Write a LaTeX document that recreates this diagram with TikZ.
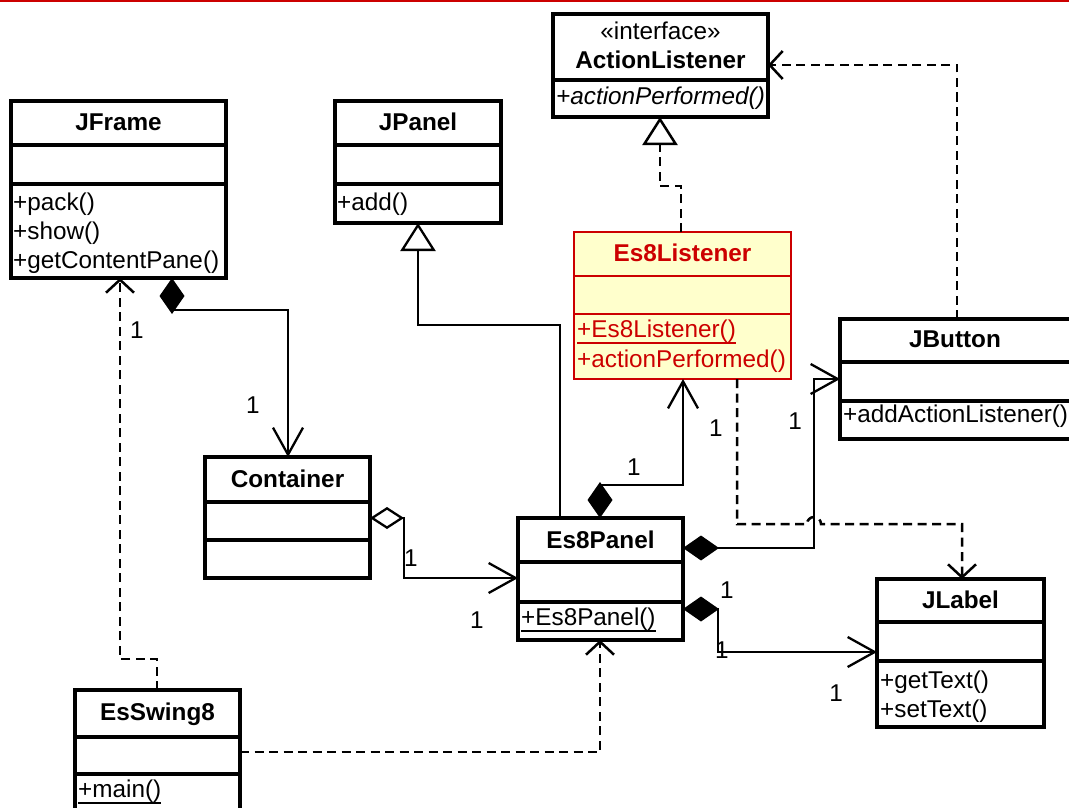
\documentclass[tikz,border=0pt]{standalone}
\usepackage{fontspec}
\setmainfont{Liberation Sans}
\usetikzlibrary{arrows.meta,fit}

\definecolor{umlred}{HTML}{CC0000}
\definecolor{umlyellow}{HTML}{FFFFCC}

\newcommand{\diagfont}{\fontsize{24.3pt}{29pt}\selectfont}
% underlined (static) operation
\newsavebox{\ulinebox}
\newcommand{\staticop}[1]{\sbox{\ulinebox}{#1}\rlap{\rule[-6.5pt]{\wd\ulinebox}{1.8pt}}\usebox{\ulinebox}}

% class frame: [style]{name}{left}{top}{right}{bottom}{divider ys}
\newcommand{\umlclass}[7][]{%
  \node[classbox,#1,fit={(#3,#4)(#5,#6)}] (#2) {};
  \foreach \dy in {#7}{\draw[divider,#1] (#2.west |- 0,\dy) -- (#2.east |- 0,\dy);}
}

\tikzset{
  navi/.tip={Straight Barb[length=27pt,width=30pt]},
  depend/.tip={Straight Barb[length=13pt,width=28pt]},
  inherit/.tip={Triangle[length=28pt,width=35pt,fill=white]},
  compose/.tip={Diamond[length=36pt,width=25pt]},
  aggreg/.tip={Diamond[length=34pt,width=22pt,fill=white]},
}

\begin{document}
\begin{tikzpicture}[x=1pt,y=-1pt,
  every node/.style={font=\diagfont},
  classbox/.style={draw=black,line width=3.3pt,fill=white,inner sep=0pt,outer sep=0pt},
  divider/.style={line width=3.3pt},
  listenerbox/.style={draw=umlred,line width=2.2pt,fill=umlyellow},
  classname/.style={anchor=base,inner sep=0pt,font=\diagfont\bfseries},
  stereo/.style={anchor=base,inner sep=0pt},
  member/.style={anchor=base west,inner sep=0pt},
  mult/.style={inner sep=0pt},
  assoc/.style={line width=2.3pt},
  dep/.style={line width=2.5pt,dash pattern=on 9pt off 5.5pt},
]
\useasboundingbox (0,0) rectangle (1069,808);
\fill[white] (0,0) rectangle (1069,808);
\fill[umlred] (0,0) rectangle (1069,1.8);

% ---- class frames ----
\umlclass{actionlistener}{553}{14}{768}{117}{80}
\umlclass{jframe}{11}{101}{226}{278}{145,184}
\umlclass{jpanel}{335}{101}{501}{223}{145,184}
\umlclass[listenerbox]{listener}{574}{232}{791}{379}{276,314}
\umlclass{jbutton}{840}{319}{1071}{439}{362,401}
\umlclass{container}{205}{457}{370}{578}{502,540}
\umlclass{es8panel}{518}{518}{683}{640}{562,602}
\umlclass{jlabel}{877}{579}{1044}{727}{622,661}
\umlclass{esswing}{75}{690}{240}{815}{737,774}

% ---- relations ----
% JFrame owns its content pane
\draw[assoc,{compose}-{navi}] (172,0 |- jframe.south) -- (172,310) -- (288,310) -- (288,0 |- container.north);
% EsSwing8 uses JFrame
\draw[dep,-{depend}] (157,0 |- esswing.north) -- (157,659) -- (120,659) -- (120,0 |- jframe.south);
% Es8Panel extends JPanel
\draw[assoc,-{inherit}] (560,0 |- es8panel.north) -- (560,325) -- (418,325) -- (418,0 |- jpanel.south);
% Es8Listener implements ActionListener
\draw[dep,-{inherit}] (681,0 |- listener.north) -- (681,186) -- (660,186) -- (660,0 |- actionlistener.south);
% JButton uses ActionListener
\draw[dep,-{depend}] (957,0 |- jbutton.north) -- (957,65) -- (actionlistener.east |- 0,65);
% Es8Panel compositions
\draw[assoc,{compose}-{navi}] (600,0 |- es8panel.north) -- (600,485) -- (683,485) -- (683,0 |- listener.south);
\draw[assoc,{compose}-{navi}] (es8panel.east |- 0,548) -- (814,548) -- (814,379) -- (jbutton.west |- 0,379);
\draw[assoc,{compose}-{navi}] (es8panel.east |- 0,609) -- (718,609) -- (718,652) -- (jlabel.west |- 0,652);
% Container aggregates Es8Panel
\draw[assoc,{aggreg}-{navi}] (container.east |- 0,518) -- (404,518) -- (404,578) -- (es8panel.west |- 0,578);
% Es8Listener uses JLabel (hops over the JButton line)
\draw[dep,-{depend}] (737,0 |- listener.south) -- (737,524) -- (807,524)
  arc[start angle=180,end angle=0,radius=7pt] -- (962,524) -- (962,0 |- jlabel.north);
% EsSwing8 uses Es8Panel
\draw[dep,-{depend}] (esswing.east |- 0,752) -- (600,752) -- (600,0 |- es8panel.south);

% ---- class texts ----
\node[stereo] (al-stereo) at (660.5,40) {«interface»};
\node[classname] (al-name) at (660.5,69) {ActionListener};
\node[member,font=\diagfont\itshape] (al-op) at (556,104) {+actionPerformed()};

\node[classname] (jf-name) at (118.5,130) {JFrame};
\node[member] (jf-op1) at (13,210) {+pack()};
\node[member] (jf-op2) at (13,239) {+show()};
\node[member] (jf-op3) at (13,268) {+getContentPane()};

\node[classname] (jp-name) at (418,130) {JPanel};
\node[member] (jp-op1) at (337,210) {+add()};

\begin{scope}[umlred]
\node[classname,text=umlred] (li-name) at (682.5,261) {Es8Listener};
\node[member,text=umlred] (li-op1) at (577,337) {\staticop{+Es8Listener()}};
\node[member,text=umlred] (li-op2) at (577,367) {+actionPerformed()};
\end{scope}

\node[classname] (jb-name) at (955,347) {JButton};
\node[member] (jb-op1) at (843,422) {+addActionListener()};

\node[classname] (co-name) at (287.5,487) {Container};

\node[classname] (ep-name) at (600.5,548) {Es8Panel};
\node[member] (ep-op1) at (521,625) {\staticop{+Es8Panel()}};

\node[classname] (jl-name) at (960.5,608) {JLabel};
\node[member] (jl-op1) at (880,688) {+getText()};
\node[member] (jl-op2) at (880,717) {+setText()};

\node[classname] (es-name) at (157.5,720) {EsSwing8};
\node[member] (es-op1) at (78,797) {\staticop{+main()}};

% ---- multiplicities ----
\node[mult] (m1) at (137,330) {1};
\node[mult] (m2) at (253,405) {1};
\node[mult] (m3) at (411,558) {1};
\node[mult] (m4) at (477,620) {1};
\node[mult] (m5) at (634,467) {1};
\node[mult] (m6) at (716,428) {1};
\node[mult] (m7) at (795,421) {1};
\node[mult] (m8) at (727,590) {1};
\node[mult] (m9) at (722,650) {1};
\node[mult] (m10) at (836,693) {1};
\end{tikzpicture}
\end{document}
